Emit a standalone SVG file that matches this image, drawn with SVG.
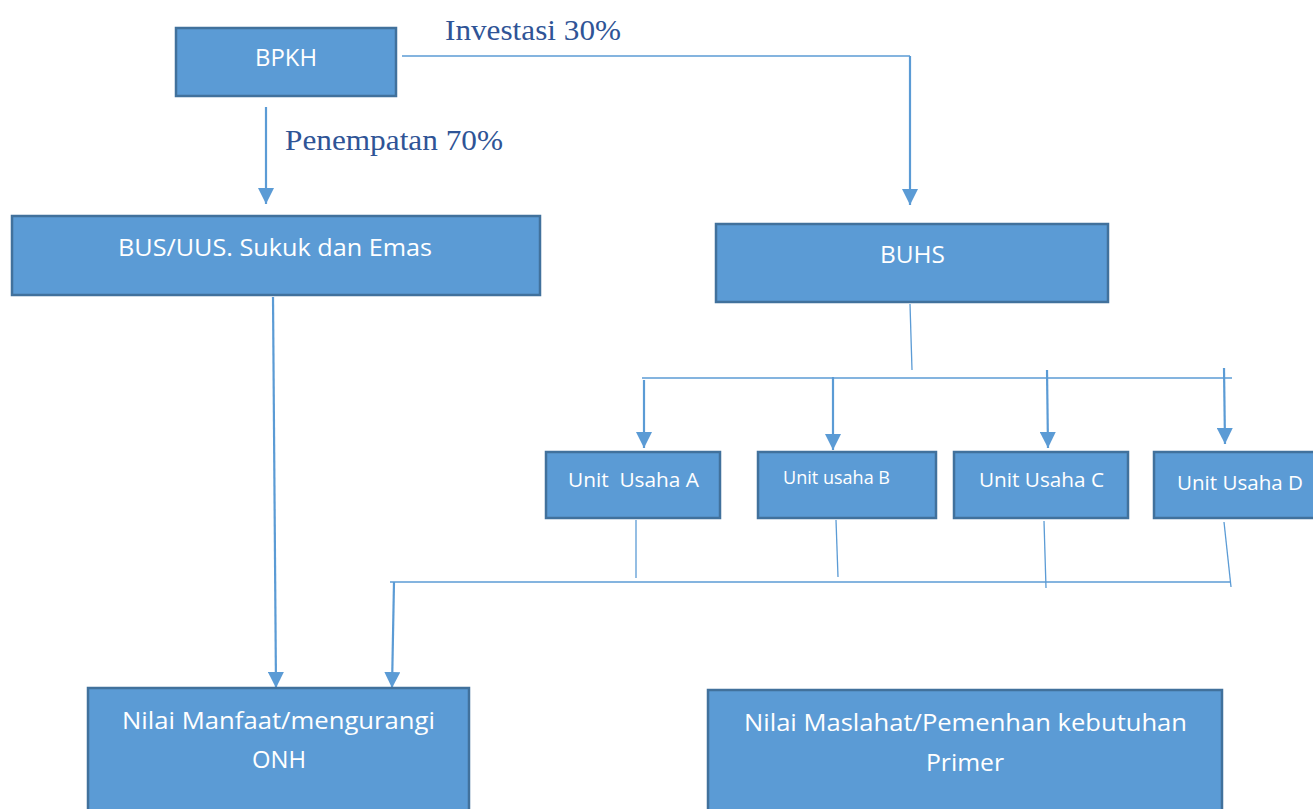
<svg xmlns="http://www.w3.org/2000/svg" width="1313" height="809" viewBox="0 0 1313 809">
<style>
.box{fill:#5B9BD5;stroke:#41719C;stroke-width:2.5}
.t{font-family:"Open Sans","Noto Sans",sans-serif;fill:#ffffff;text-anchor:middle;font-size:24px}
.ts{font-size:20px}
.lbl{font-family:"Liberation Serif","Times New Roman",serif;fill:#2F5496;font-size:29px}
.c{stroke:#5B9BD5;fill:none}
.a{stroke-width:2.2}
.thin{stroke-width:1.3}
</style>
<defs>
<marker id="arr" viewBox="0 0 16 16" refX="16" refY="8" markerWidth="16" markerHeight="16" markerUnits="userSpaceOnUse" orient="auto">
<path d="M0,0 L16,8 L0,16 Z" fill="#5B9BD5"/>
</marker>
</defs>
<rect width="1313" height="809" fill="#ffffff"/>
<g id="connectors">
<line class="c thin" x1="402" y1="56" x2="910" y2="56"/>
<line class="c a" x1="910" y1="56" x2="910" y2="205" marker-end="url(#arr)"/>
<line class="c a" x1="266" y1="107" x2="266" y2="204" marker-end="url(#arr)"/>
<line class="c thin" x1="910" y1="304" x2="912" y2="370"/>
<line class="c a" x1="642" y1="378" x2="1232" y2="378" style="stroke-width:1.6"/>
<line class="c a" x1="644" y1="380" x2="644" y2="448" marker-end="url(#arr)"/>
<line class="c a" x1="833" y1="377" x2="833" y2="450" marker-end="url(#arr)"/>
<line class="c a" x1="1047" y1="370" x2="1048" y2="448" marker-end="url(#arr)"/>
<line class="c a" x1="1224" y1="368" x2="1225" y2="444" marker-end="url(#arr)"/>
<line class="c thin" x1="636" y1="520" x2="636" y2="578"/>
<line class="c thin" x1="836" y1="520" x2="838" y2="577"/>
<line class="c thin" x1="1044" y1="521" x2="1046" y2="588"/>
<line class="c thin" x1="1224" y1="522" x2="1231" y2="587"/>
<line class="c" x1="390" y1="582" x2="1231" y2="582" style="stroke-width:1.6"/>
<line class="c a" x1="394" y1="582" x2="392" y2="688" marker-end="url(#arr)"/>
<line class="c a" x1="273" y1="297" x2="276" y2="688" marker-end="url(#arr)"/>
</g>
<text class="lbl" x="445" y="40" textLength="176" lengthAdjust="spacingAndGlyphs">Investasi 30%</text>
<text class="lbl" x="285" y="150" textLength="218" lengthAdjust="spacingAndGlyphs">Penempatan 70%</text>
<g id="bpkh">
<rect class="box" x="176" y="28" width="220" height="68"/>
<text class="t" x="286" y="66" textLength="62" lengthAdjust="spacingAndGlyphs">BPKH</text>
</g>
<g id="bus">
<rect class="box" x="12" y="216" width="528" height="79"/>
<text class="t" x="275" y="256" textLength="314" lengthAdjust="spacingAndGlyphs">BUS/UUS. Sukuk dan Emas</text>
</g>
<g id="buhs">
<rect class="box" x="716" y="224" width="392" height="78"/>
<text class="t" x="912.5" y="263" textLength="65" lengthAdjust="spacingAndGlyphs">BUHS</text>
</g>
<g id="unitA">
<rect class="box" x="546" y="452" width="174" height="66"/>
<text class="t ts" x="633.5" y="487" textLength="131" lengthAdjust="spacingAndGlyphs" xml:space="preserve">Unit  Usaha A</text>
</g>
<g id="unitB">
<rect class="box" x="758" y="452" width="178" height="66"/>
<text class="t" x="836.5" y="484" textLength="107" lengthAdjust="spacingAndGlyphs" style="font-size:18px">Unit usaha B</text>
</g>
<g id="unitC">
<rect class="box" x="954" y="452" width="174" height="66"/>
<text class="t ts" x="1041.5" y="487" textLength="125" lengthAdjust="spacingAndGlyphs">Unit Usaha C</text>
</g>
<g id="unitD">
<rect class="box" x="1154" y="452" width="170" height="66"/>
<text class="t ts" x="1240" y="490" textLength="126" lengthAdjust="spacingAndGlyphs">Unit Usaha D</text>
</g>
<g id="manfaat">
<rect class="box" x="88" y="688" width="381" height="140"/>
<text class="t" x="278.5" y="729" textLength="313" lengthAdjust="spacingAndGlyphs">Nilai Manfaat/mengurangi</text>
<text class="t" x="279" y="768" textLength="54" lengthAdjust="spacingAndGlyphs">ONH</text>
</g>
<g id="maslahat">
<rect class="box" x="708" y="690" width="514" height="140"/>
<text class="t" x="965.5" y="731" textLength="443" lengthAdjust="spacingAndGlyphs">Nilai Maslahat/Pemenhan kebutuhan</text>
<text class="t" x="965" y="771" textLength="78" lengthAdjust="spacingAndGlyphs">Primer</text>
</g>
</svg>
